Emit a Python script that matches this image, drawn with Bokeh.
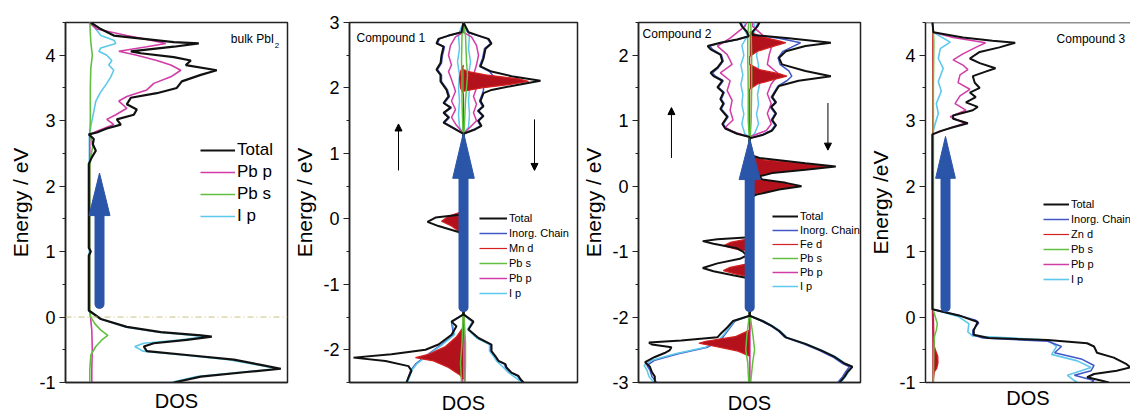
from bokeh.plotting import figure
from bokeh.layouts import row
from bokeh.models import (Range1d, Span, Label, Legend, LegendItem, Arrow, NormalHead,
                          FixedTicker, SingleIntervalTicker, PrintfTickFormatter)
from bokeh.embed import file_html
from bokeh.resources import INLINE

FONT = "Liberation Sans"
C_TOT = "#111111"
C_CHN = "#4257c6"
C_RED_FILL = "#b3121c"
C_RED = "#d42020"
C_PBS = "#62c040"
C_PBP = "#d23ca6"
C_IP = "#5cc8ec"
C_ARROW = "#2a55a8"

# ---------------- Panel 1 : bulk PbI2 (energy in eV, DOS arb. units) ----------------
p1_tot_E = [4.50, 4.40, 4.30, 4.25, 4.20, 4.18, 4.13, 4.06, 4.03, 3.97, 3.92, 3.85, 3.77, 3.70, 3.60,
            3.50, 3.42, 3.35, 3.25, 3.17, 3.09, 3.02, 2.94, 2.88, 2.82, 2.79, 2.72, 2.64, 2.54, 2.44,
            2.34, 1.06, 1.00, 0.94, 0.10, -0.03, -0.15, -0.23, -0.28, -0.30, -0.35, -0.40, -0.45, -0.52,
            -0.58, -0.65, -0.73, -0.79, -0.84, -0.91, -1.00]
p1_tot_D = [0.2, 1.2, 2.5, 5.5, 8.5, 11.0, 8.5, 4.2, 5.2, 8.5, 10.2, 9.7, 12.8, 11.2, 9.3,
            8.8, 6.8, 4.2, 3.8, 4.8, 4.5, 2.8, 3.2, 1.8, 0.8, 0.0, 0.5, 0.4, 0.7, 0.3,
            0.0, 0.0, 0.2, 0.0, 0.0, 1.2, 3.8, 7.2, 11.2, 12.3, 9.8, 6.5, 5.5, 5.8,
            9.8, 14.5, 17.2, 19.2, 15.8, 11.2, 8.5]
p1_pbp_E = [4.50, 4.40, 4.30, 4.23, 4.18, 4.13, 4.06, 4.00, 3.92, 3.85, 3.77, 3.67, 3.57, 3.47,
            3.37, 3.30, 3.19, 3.09, 3.02, 2.94, 2.84, 2.79, 2.30, 0.10, -0.20, -0.50, -0.80, -1.00]
p1_pbp_D = [0.0, 0.8, 3.8, 6.2, 7.7, 5.8, 3.0, 4.8, 6.8, 8.2, 9.2, 8.2, 6.5, 5.8,
            3.8, 3.0, 3.8, 2.7, 1.8, 2.5, 0.8, 0.1, 0.1, 0.1, 0.3, 0.35, 0.3, 0.3]
p1_pbs_E = [4.50, 4.20, 4.00, 3.80, 3.50, 3.00, 2.80, 2.62, 2.45, 2.30, 1.00, 0.10, 0.00, -0.10,
            -0.20, -0.28, -0.35, -0.45, -0.58, -0.80, -1.00]
p1_pbs_D = [0.1, 0.2, 0.35, 0.2, 0.15, 0.15, 0.1, 0.4, 0.2, 0.1, 0.1, 0.1, 0.2, 0.6,
            1.2, 1.9, 1.3, 0.7, 0.2, 0.1, 0.1]
p1_ip_E = [4.50, 4.30, 4.23, 4.18, 4.11, 4.06, 4.00, 3.92, 3.85, 3.77, 3.67, 3.57, 3.44, 3.30,
           3.14, 2.99, 2.79, 2.30, 0.10, -0.03, -0.15, -0.23, -0.28, -0.30, -0.35, -0.40, -0.45,
           -0.52, -0.58, -0.65, -0.73, -0.79, -0.84, -0.91, -1.00]
p1_ip_D = [0.2, 1.2, 2.5, 2.7, 1.2, 1.0, 1.8, 2.3, 2.0, 2.5, 2.2, 1.8, 1.2, 0.7,
           0.5, 0.3, 0.05, 0.05, 0.05, 1.2, 3.6, 7.0, 10.5, 11.5, 9.0, 5.5, 4.6,
           5.4, 9.4, 14.0, 16.8, 18.8, 15.4, 10.8, 8.2]
p1_legend = ["Total", "Pb p", "Pb s", "I p"]

# ---------------- Panel 2 : Compound 1 (Mn); up = left, dn = right ----------------
p2_tot_up_E = [3.00, 2.85, 2.80, 2.75, 2.68, 2.63, 2.50, 2.38, 2.28, 2.20, 2.10, 1.97, 1.87, 1.77,
               1.70, 1.62, 1.55, 1.47, 1.40, 1.30, 0.08, 0.06, 0.02, -0.045, -0.11, -0.20, -0.26,
               -1.46, -1.57, -1.64, -1.77, -1.92, -2.00, -2.07, -2.12, -2.17, -2.25, -2.32, -2.42, -2.50]
p2_tot_up_D = [0.0, 0.2, 1.5, 2.5, 2.7, 2.0, 2.2, 2.3, 2.7, 2.3, 2.3, 1.7, 1.5, 2.0,
               1.3, 2.0, 1.5, 2.0, 1.2, 0.0, 0.0, 0.6, 2.8, 3.6, 2.5, 0.5, 0.0,
               0.0, 1.2, 0.7, 1.2, 2.5, 3.8, 7.2, 11.0, 7.8, 5.5, 5.2, 5.5, 5.7]
p2_dn_E = [3.00, 2.85, 2.80, 2.75, 2.68, 2.60, 2.45, 2.33, 2.25, 2.18, 2.11, 2.05, 1.97, 1.92,
           1.80, 1.72, 1.65, 1.57, 1.50, 1.42, 1.37, 1.30, -1.46, -1.57, -1.69, -1.82, -1.92,
           -2.02, -2.10, -2.17, -2.22, -2.27, -2.35, -2.40, -2.45, -2.50]
p2_tot_dn_D = [0.0, 0.5, 1.5, 2.5, 2.8, 2.2, 2.0, 1.7, 2.8, 4.8, 7.7, 5.5, 2.8, 2.0,
               1.7, 2.0, 1.5, 2.0, 1.5, 1.8, 1.2, 0.0, 0.0, 1.0, 0.5, 1.5, 2.8,
               2.8, 3.2, 3.5, 4.2, 4.3, 4.8, 5.5, 5.7, 6.0]
p2_chn_up_E = [3.00, 2.85, 2.80, 2.75, 2.68, 2.63, 2.50, 2.38, 2.28, 2.20, 2.10, 1.97, 1.87, 1.77,
               1.70, 1.62, 1.55, 1.47, 1.40, 1.30, -1.46, -1.57, -1.77, -1.92, -2.03, -2.12, -2.22,
               -2.32, -2.42, -2.50]
p2_chn_up_D = [0.0, 0.2, 1.4, 2.4, 2.6, 1.9, 2.1, 2.2, 2.6, 2.2, 2.2, 1.6, 1.4, 1.9,
               1.2, 1.9, 1.4, 1.9, 1.1, 0.0, 0.0, 1.2, 1.0, 2.2, 3.2, 4.0, 4.8,
               5.3, 5.5, 5.7]
p2_chn_dn_D = [0.0, 0.4, 1.4, 2.4, 2.7, 2.1, 1.9, 1.6, 2.6, 3.0, 2.2, 2.0, 2.0, 1.9,
               1.6, 1.9, 1.4, 1.9, 1.4, 1.7, 1.1, 0.0, 0.0, 0.9, 0.5, 1.4, 2.7,
               2.7, 3.1, 3.4, 4.1, 4.2, 4.7, 5.4, 5.6, 5.9]
p2_ip_up_E = [3.00, 2.90, 2.80, 2.60, 2.40, 2.20, 2.00, 1.80, 1.60, 1.40, 1.30, -1.46, -1.57,
              -1.77, -1.92, -2.03, -2.12, -2.22, -2.32, -2.42, -2.50]
p2_ip_up_D = [0.0, 0.3, 0.5, 0.4, 0.6, 0.4, 0.5, 0.4, 0.5, 0.4, 0.0, 0.0, 1.1,
              0.9, 2.1, 3.1, 3.9, 4.7, 5.2, 5.4, 5.6]
p2_ip_dn_E = [3.00, 2.90, 2.80, 2.60, 2.40, 2.20, 2.00, 1.80, 1.60, 1.40, 1.30, -1.46, -1.57,
              -1.69, -1.82, -1.92, -2.02, -2.10, -2.17, -2.27, -2.35, -2.45, -2.50]
p2_ip_dn_D = [0.0, 0.3, 0.6, 0.5, 0.7, 0.5, 0.6, 0.5, 0.6, 0.5, 0.0, 0.0, 0.9,
              0.4, 1.3, 2.6, 2.6, 3.0, 3.3, 4.0, 4.5, 5.4, 5.8]
p2_pbp_up_E = [3.00, 2.85, 2.78, 2.65, 2.50, 2.35, 2.25, 2.13, 1.95, 1.80, 1.67, 1.55, 1.45, 1.30,
               -1.46, -2.00, -2.50]
p2_pbp_up_D = [0.0, 0.0, 0.8, 1.3, 1.5, 1.2, 1.5, 1.2, 0.8, 1.2, 0.8, 1.2, 0.8, 0.0,
               0.0, 0.1, 0.1]
p2_pbp_dn_E = [3.00, 2.85, 2.78, 2.65, 2.50, 2.35, 2.20, 2.13, 2.00, 1.87, 1.75, 1.62, 1.50, 1.30,
               -1.46, -2.00, -2.50]
p2_pbp_dn_D = [0.0, 0.0, 0.8, 1.3, 1.5, 1.3, 1.0, 0.8, 1.3, 1.0, 1.3, 1.0, 1.3, 0.0,
               0.0, 0.1, 0.1]
p2_pbs_E = [3.00, 2.80, 2.40, 2.20, 1.80, 1.30, -1.46, -1.90, -2.20, -2.50]
p2_pbs_up_D = [0.0, 0.15, 0.2, 0.15, 0.15, 0.05, 0.05, 0.15, 0.3, 0.2]
p2_pbs_dn_D = [0.0, 0.2, 0.3, 0.4, 0.2, 0.05, 0.05, 0.2, 0.2, 0.15]
p2_mnd_up_E = [2.35, 2.25, 2.15, 2.00, 1.90, 0.12, 0.04, -0.035, -0.11, -0.21, -0.26,
               -1.65, -1.80, -1.95, -2.07, -2.12, -2.17, -2.27, -2.38, -2.45]
p2_mnd_up_D = [0.0, 0.3, 0.4, 0.3, 0.0, 0.0, 1.5, 2.2, 1.2, 0.3, 0.0,
               0.0, 0.7, 1.8, 3.5, 4.8, 3.0, 1.5, 0.4, 0.0]
p2_mnd_dn_E = [2.28, 2.25, 2.20, 2.14, 2.10, 2.05, 2.00, 1.95]
p2_mnd_dn_D = [0.0, 0.5, 2.2, 5.5, 6.5, 4.5, 1.8, 0.0]
p2_legend = ["Total", "Inorg. Chain", "Mn d", "Pb s", "Pb p", "I p"]

# ---------------- Panel 3 : Compound 2 (Fe) ----------------
p3_tot_up_E = [2.50, 2.44, 2.36, 2.29, 2.24, 2.19, 2.14, 2.09, 2.01, 1.91, 1.81, 1.73, 1.68, 1.61,
               1.51, 1.43, 1.33, 1.26, 1.18, 1.06, 0.95, 0.88, 0.80, 0.75, -0.78, -0.81, -0.84,
               -0.88, -0.95, -1.00, -1.06, -1.11, -1.18, -1.25, -1.30, -1.36, -1.41, -1.98, -2.06,
               -2.16, -2.26, -2.31, -2.36, -2.39, -2.42, -2.46, -2.51, -2.55, -2.61, -2.69, -2.76,
               -2.84, -2.91, -3.00]
p3_tot_up_D = [1.0, 0.8, 0.3, 0.1, 1.3, 3.0, 4.3, 4.0, 3.0, 2.8, 3.3, 4.0, 3.7, 2.8,
               3.3, 2.7, 3.0, 2.7, 3.0, 2.3, 2.8, 2.5, 1.3, 0.0, 0.0, 3.3, 4.8,
               3.7, 1.3, 0.7, 0.3, 1.0, 3.3, 4.8, 3.7, 1.7, 0.0, 0.0, 1.7,
               2.3, 3.0, 3.3, 7.0, 10.3, 10.0, 8.0, 8.2, 8.7, 9.7, 10.7, 10.2,
               10.0, 9.7, 9.7]
p3_tot_dn_E = [2.50, 2.44, 2.36, 2.31, 2.26, 2.19, 2.14, 2.06, 1.96, 1.86, 1.76, 1.68, 1.61, 1.53,
               1.46, 1.36, 1.28, 1.21, 1.11, 1.01, 0.93, 0.85, 0.78, 0.73, 0.48, 0.43, 0.35,
               0.30, 0.25, 0.20, 0.15, 0.10, 0.05, 0.00, -0.05, -0.13, -0.18, -1.98, -2.06,
               -2.14, -2.21, -2.31, -2.41, -2.51, -2.61, -2.71, -2.76, -2.84, -2.91, -3.00]
p3_tot_dn_D = [1.0, 0.8, 0.3, 0.3, 4.0, 8.3, 5.7, 3.7, 3.0, 3.3, 5.7, 8.3, 5.0, 3.0,
               2.7, 2.3, 2.7, 2.2, 2.7, 2.3, 2.7, 2.3, 1.3, 0.0, 0.0, 1.0, 5.7,
               8.8, 5.7, 2.3, 1.0, 1.3, 3.7, 5.3, 3.0, 0.7, 0.0, 0.0, 1.3,
               2.3, 3.0, 3.7, 5.7, 7.3, 8.7, 9.7, 10.5, 10.0, 9.7, 9.2]
p3_chn_up_E = [2.50, 2.44, 2.36, 2.29, 2.24, 2.19, 2.14, 2.09, 2.01, 1.91, 1.81, 1.73, 1.68, 1.61,
               1.51, 1.43, 1.33, 1.26, 1.18, 1.06, 0.95, 0.88, 0.80, 0.75, -1.98, -2.06, -2.16,
               -2.26, -2.36, -2.46, -2.56, -2.66, -2.74, -2.81, -2.91, -3.00]
p3_chn_up_D = [0.9, 0.7, 0.3, 0.1, 1.2, 2.9, 4.1, 3.8, 2.9, 2.7, 3.2, 3.8, 3.5, 2.7,
               3.2, 2.6, 2.9, 2.6, 2.9, 2.2, 2.7, 2.4, 1.2, 0.0, 0.0, 1.5, 2.0,
               2.5, 3.0, 4.3, 7.3, 9.7, 10.5, 10.2, 10.0, 9.5]
p3_chn_dn_E = [2.50, 2.44, 2.36, 2.31, 2.26, 2.19, 2.14, 2.06, 1.96, 1.86, 1.76, 1.68, 1.61, 1.53,
               1.46, 1.36, 1.28, 1.21, 1.11, 1.01, 0.93, 0.85, 0.78, 0.73, -1.98, -2.06, -2.14,
               -2.21, -2.31, -2.41, -2.51, -2.61, -2.71, -2.76, -2.84, -2.91, -3.00]
p3_chn_dn_D = [0.9, 0.7, 0.3, 0.3, 3.0, 5.2, 4.5, 3.4, 2.9, 3.1, 4.0, 4.3, 3.8, 2.9,
               2.6, 2.2, 2.6, 2.1, 2.6, 2.2, 2.6, 2.2, 1.2, 0.0, 0.0, 1.2, 2.2,
               2.9, 3.6, 5.5, 7.1, 8.5, 9.5, 10.2, 9.8, 9.5, 9.0]
p3_ip_up_E = [2.50, 2.40, 2.30, 2.15, 2.00, 1.85, 1.70, 1.55, 1.40, 1.25, 1.10, 0.95, 0.80, 0.75,
              -1.98, -2.06, -2.16, -2.26, -2.36, -2.46, -2.56, -2.66, -2.74, -2.81, -2.91, -3.00]
p3_ip_up_D = [0.4, 0.6, 0.2, 0.8, 0.6, 0.9, 0.7, 0.9, 0.7, 0.8, 0.6, 0.8, 0.5, 0.0,
              0.0, 1.6, 2.1, 2.6, 3.2, 4.5, 7.6, 10.0, 10.8, 10.5, 10.3, 9.8]
p3_ip_dn_E = [2.50, 2.40, 2.30, 2.15, 2.00, 1.85, 1.70, 1.55, 1.40, 1.25, 1.10, 0.95, 0.80, 0.75,
              -1.98, -2.06, -2.14, -2.21, -2.31, -2.41, -2.51, -2.61, -2.71, -2.76, -2.84, -2.91, -3.00]
p3_ip_dn_D = [0.4, 0.6, 0.3, 0.9, 0.7, 0.9, 0.8, 1.0, 0.8, 0.9, 0.7, 0.9, 0.5, 0.0,
              0.0, 1.4, 2.4, 3.1, 3.8, 5.8, 7.4, 8.8, 9.8, 10.5, 10.1, 9.8, 9.3]
p3_pbp_up_E = [2.50, 2.44, 2.26, 2.14, 2.01, 1.86, 1.73, 1.61, 1.46, 1.31, 1.16, 1.01, 0.90, 0.83,
               0.75, -1.98, -3.00]
p3_pbp_up_D = [0.3, 0.5, 2.0, 3.3, 2.3, 1.8, 3.0, 2.0, 2.3, 1.8, 2.0, 1.7, 2.5, 1.7,
               0.0, 0.0, 0.0]
p3_pbp_dn_E = [2.50, 2.44, 2.31, 2.16, 2.01, 1.86, 1.71, 1.56, 1.41, 1.26, 1.11, 0.95, 0.85, 0.75,
               -1.98, -3.00]
p3_pbp_dn_D = [0.3, 0.3, 1.3, 2.3, 2.0, 1.8, 3.0, 2.2, 1.8, 2.2, 1.8, 2.2, 1.7, 0.0,
               0.0, 0.0]
p3_pbs_E = [2.50, 2.30, 2.00, 1.50, 1.00, 0.75, -1.98, -2.30, -2.50, -2.70, -3.00]
p3_pbs_up_D = [0.1, 0.2, 0.2, 0.15, 0.15, 0.05, 0.05, 0.3, 0.4, 0.2, 0.1]
p3_pbs_dn_D = [0.1, 0.15, 0.2, 0.2, 0.15, 0.05, 0.05, 0.35, 0.5, 0.3, 0.1]
p3_fed_up_E = [-0.80, -0.86, -0.91, -0.96, -1.00, -1.18, -1.24, -1.29, -1.34, -1.39,
               -2.20, -2.30, -2.37, -2.40, -2.45, -2.52, -2.60]
p3_fed_up_D = [0.0, 2.0, 2.7, 1.5, 0.0, 0.0, 2.0, 2.7, 1.5, 0.0,
               0.0, 1.5, 4.5, 5.2, 3.5, 1.2, 0.0]
p3_fed_dn_E = [2.36, 2.29, 2.22, 2.19, 2.14, 2.06, 1.98, 1.86, 1.78, 1.71, 1.68, 1.63, 1.56, 1.48,
               0.46, 0.40, 0.35, 0.30, 0.25, 0.20, 0.15, 0.10, 0.05, 0.00, -0.05, -0.13, -0.17]
p3_fed_dn_D = [0.0, 1.0, 3.0, 3.7, 2.5, 0.8, 0.0, 0.0, 1.0, 3.2, 3.8, 2.5, 0.8, 0.0,
               0.0, 1.5, 5.2, 8.3, 5.2, 2.0, 0.8, 1.1, 3.4, 5.0, 2.7, 0.5, 0.0]
p3_legend = ["Total", "Inorg. Chain", "Fe d", "Pb s", "Pb p", "I p"]

# ---------------- Panel 4 : Compound 3 (Zn) ----------------
p4_tot_E = [4.50, 4.35, 4.27, 4.22, 4.19, 4.12, 4.05, 3.95, 3.88, 3.80, 3.75, 3.68, 3.58, 3.50,
            3.43, 3.36, 3.28, 3.21, 3.16, 3.08, 3.03, 2.96, 2.90, 2.84, 2.79, 0.12, 0.025, -0.05,
            -0.075, -0.20, -0.27, -0.32, -0.35, -0.40, -0.45, -0.545, -0.62, -0.72, -0.77, -0.82,
            -0.87, -0.92, -0.97, -1.00]
p4_tot_D = [0.0, 0.1, 3.1, 6.1, 8.4, 6.8, 4.8, 3.8, 4.8, 6.4, 5.4, 4.1, 4.3, 4.8,
            3.8, 4.4, 3.4, 4.6, 4.1, 2.1, 2.1, 3.6, 2.1, 0.8, 0.0, 0.0, 2.7, 4.1,
            4.6, 4.2, 4.2, 5.7, 11.7, 15.7, 16.4, 16.7, 18.4, 19.7, 20.1, 18.7,
            16.4, 15.7, 17.1, 17.9]
p4_chn_E = [0.12, 0.025, -0.05, -0.09, -0.20, -0.27, -0.32, -0.37, -0.45, -0.545, -0.64, -0.74,
            -0.82, -0.89, -0.97, -1.00]
p4_chn_D = [0.0, 2.7, 4.4, 4.7, 4.1, 4.1, 5.1, 11.7, 13.1, 12.4, 15.1, 16.4, 16.1, 14.4, 16.4, 16.1]
p4_ip_E = [4.50, 4.35, 4.20, 4.10, 3.95, 3.80, 3.60, 3.45, 3.26, 3.11, 2.96, 2.80, 0.12, 0.01,
           -0.10, -0.225, -0.29, -0.35, -0.45, -0.57, -0.67, -0.77, -0.89, -0.97, -1.00]
p4_ip_D = [0.0, 0.1, 1.8, 0.8, 0.6, 1.1, 0.6, 0.9, 0.4, 0.6, 0.3, 0.0, 0.0, 2.6,
           3.7, 3.6, 4.1, 11.7, 12.6, 12.1, 14.7, 16.1, 13.7, 14.4, 14.7]
p4_pbp_E = [4.50, 4.35, 4.27, 4.19, 4.12, 4.02, 3.93, 3.85, 3.78, 3.70, 3.58, 3.48, 3.38, 3.26,
            3.16, 3.06, 2.96, 2.89, 2.81, 2.79, 0.11, -0.50, -1.00]
p4_pbp_D = [0.0, 0.1, 2.1, 5.4, 4.4, 3.1, 2.1, 3.1, 3.6, 2.8, 2.6, 3.8, 2.8, 2.3,
            3.4, 1.8, 3.3, 1.8, 0.4, 0.0, 0.0, 0.1, 0.1]
p4_pbs_E = [4.50, 4.20, 3.50, 2.80, 0.10, 0.00, -0.10, -0.20, -0.30, -0.50, -1.00]
p4_pbs_D = [0.05, 0.15, 0.1, 0.1, 0.1, 0.3, 0.5, 0.4, 0.2, 0.15, 0.1]
p4_znd_E = [4.50, 3.00, 1.00, 0.10, -0.30, -0.45, -0.52, -0.60, -0.70, -0.78, -0.84, -0.95, -1.00]
p4_znd_D = [0.05, 0.05, 0.05, 0.1, 0.15, 0.2, 0.35, 0.55, 0.57, 0.45, 0.2, 0.1, 0.1]
p4_legend = ["Total", "Inorg. Chain", "Zn d", "Pb s", "Pb p", "I p"]


# ---------------- helpers ----------------
def make_fig(xr, yr, width, mb_left, mb_right, mb_top, mb_bottom, ylabel, outline=True, dos_standoff=7):
    p = figure(width=width, height=416, x_range=Range1d(*xr), y_range=Range1d(*yr),
               output_backend="svg", toolbar_location=None,
               min_border_left=mb_left, min_border_right=mb_right,
               min_border_top=mb_top, min_border_bottom=mb_bottom)
    p.grid.visible = False
    p.background_fill_color = "white"
    p.border_fill_color = "white"
    if outline:
        p.outline_line_color = "#222222"
        p.outline_line_width = 1.5
        p.outline_line_alpha = 1
    else:
        p.outline_line_color = None
    ya = p.yaxis[0]
    ya.ticker = SingleIntervalTicker(interval=1, num_minor_ticks=2)
    ya.formatter = PrintfTickFormatter(format="%d")
    ya.axis_label = ylabel
    ya.axis_label_text_font = FONT
    ya.axis_label_text_font_size = "21px"
    ya.axis_label_text_font_style = "normal"
    ya.axis_label_text_color = "black"
    ya.axis_label_standoff = 4
    ya.major_label_text_font = FONT
    ya.major_label_text_font_size = "18px"
    ya.major_label_text_color = "black"
    ya.major_label_standoff = 4
    ya.major_tick_out = 6
    ya.major_tick_in = 0
    ya.minor_tick_out = 3
    ya.minor_tick_in = 0
    ya.axis_line_width = 1.5
    ya.axis_line_color = "#222222"
    ya.major_tick_line_color = "#222222"
    ya.minor_tick_line_color = "#222222"
    xa = p.xaxis[0]
    xa.ticker = FixedTicker(ticks=[])
    xa.axis_label = "DOS"
    xa.axis_label_text_font = FONT
    xa.axis_label_text_font_size = "20px"
    xa.axis_label_text_font_style = "normal"
    xa.axis_label_text_color = "black"
    xa.axis_label_standoff = dos_standoff
    xa.major_label_text_font_size = "0px"
    xa.major_tick_out = 0
    xa.major_tick_in = 0
    xa.minor_tick_out = 0
    xa.minor_tick_in = 0
    xa.major_label_standoff = 0
    xa.major_tick_line_color = None
    xa.minor_tick_line_color = None
    xa.axis_line_width = 1.5
    xa.axis_line_color = "#222222"
    return p


def sgn(D, up):
    return [-d for d in D] if up else list(D)


def spin_line(p, E, D, color, width, up=False):
    return p.line(x=sgn(D, up), y=E, line_color=color, line_width=width)


def spin_fill(p, E, D, up=False):
    xs = sgn(D, up)
    p.harea(x1=[0.0] * len(E), x2=xs, y=E, fill_color=C_RED_FILL, fill_alpha=1.0)
    return p.line(x=xs, y=E, line_color=C_RED, line_width=1.2)


def big_arrow(p, x, e0, tip, head_len, half_w):
    base = tip - head_len
    p.segment(x0=[x], y0=[e0], x1=[x], y1=[base + 0.05], line_color=C_ARROW,
              line_width=10, line_cap="round")
    p.patch(x=[x - half_w, x + half_w, x], y=[base, base, tip], fill_color=C_ARROW,
            line_color=C_ARROW, line_width=1)


def thin_arrow(p, x, e0, e1):
    p.add_layout(Arrow(end=NormalHead(size=7, fill_color="black", line_color="black"),
                       x_start=x, y_start=e0, x_end=x, y_end=e1,
                       line_color="black", line_width=1))


def add_legend(p, labels, renderers, loc, font_size, glyph_w, row_h, spacing):
    items = [LegendItem(label=l, renderers=[r]) for l, r in zip(labels, renderers)]
    leg = Legend(items=items, location=loc, orientation="vertical",
                 label_text_font=FONT, label_text_font_size=font_size,
                 label_text_color="black",
                 glyph_width=glyph_w, glyph_height=row_h, label_height=row_h,
                 spacing=spacing, padding=0, margin=0, label_standoff=2,
                 border_line_color=None, background_fill_alpha=0)
    p.add_layout(leg)


def text(p, x, y, t, size="12px"):
    p.add_layout(Label(x=x, y=y, text=t, text_font=FONT, text_font_size=size,
                       text_baseline="middle", text_align="left", text_color="black"))


# ---------------- Panel 1 ----------------
f1 = make_fig((-2.33, 19.87), (-1.0, 4.5), 289, 65, 2, 22, 32, "Energy / eV", dos_standoff=7)
f1.add_layout(Span(location=0, dimension="width", line_color="#c9c27c", line_width=1,
                   line_dash="6 3 1 3"))
r_ip = f1.line(x=p1_ip_D, y=p1_ip_E, line_color=C_IP, line_width=1.6)
r_pbp = f1.line(x=p1_pbp_D, y=p1_pbp_E, line_color=C_PBP, line_width=1.6)
r_pbs = f1.line(x=p1_pbs_D, y=p1_pbs_E, line_color=C_PBS, line_width=1.6)
r_tot = f1.line(x=p1_tot_D, y=p1_tot_E, line_color=C_TOT, line_width=2.2)
big_arrow(f1, 1.07, 0.20, 2.20, 0.65, 1.05)
add_legend(f1, p1_legend, [r_tot, r_pbp, r_pbs, r_ip], (135, 156), "17px", 35, 20, 2)
text(f1, 14.2, 4.25, "bulk PbI")
text(f1, 18.6, 4.15, "2", "8px")

# ---------------- Panel 2 ----------------
f2 = make_fig((-11.4, 11.4), (-2.5, 3.0), 290, 60, 2, 17, 34, "Energy / eV", dos_standoff=9)
spin_line(f2, p2_chn_up_E, p2_chn_up_D, C_CHN, 1.5, up=True)
r2_chn = spin_line(f2, p2_dn_E, p2_chn_dn_D, C_CHN, 1.5)
spin_line(f2, p2_ip_up_E, p2_ip_up_D, C_IP, 1.5, up=True)
r2_ip = spin_line(f2, p2_ip_dn_E, p2_ip_dn_D, C_IP, 1.5)
spin_line(f2, p2_pbp_up_E, p2_pbp_up_D, C_PBP, 1.5, up=True)
r2_pbp = spin_line(f2, p2_pbp_dn_E, p2_pbp_dn_D, C_PBP, 1.5)
r2_red = spin_fill(f2, p2_mnd_up_E, p2_mnd_up_D, up=True)
spin_fill(f2, p2_mnd_dn_E, p2_mnd_dn_D)
spin_line(f2, p2_pbs_E, p2_pbs_up_D, C_PBS, 1.5, up=True)
r2_pbs = spin_line(f2, p2_pbs_E, p2_pbs_dn_D, C_PBS, 1.5)
spin_line(f2, p2_tot_up_E, p2_tot_up_D, C_TOT, 2.0, up=True)
r2_tot = spin_line(f2, p2_dn_E, p2_tot_dn_D, C_TOT, 2.0)
big_arrow(f2, 0.0, -1.35, 1.32, 0.70, 1.08)
thin_arrow(f2, -6.5, 0.74, 1.45)
thin_arrow(f2, 7.1, 1.52, 0.74)
add_legend(f2, p2_legend, [r2_tot, r2_chn, r2_red, r2_pbs, r2_pbp, r2_ip], (130, 82),
           "11px", 28, 14, 1)
text(f2, -10.7, 2.76, "Compound 1")

# ---------------- Panel 3 ----------------
f3 = make_fig((-11.37, 11.33), (-3.0, 2.5), 287, 54, 6, 17, 34, "Energy / eV", dos_standoff=9)
spin_line(f3, p3_chn_up_E, p3_chn_up_D, C_CHN, 1.5, up=True)
r3_chn = spin_line(f3, p3_chn_dn_E, p3_chn_dn_D, C_CHN, 1.5)
spin_line(f3, p3_ip_up_E, p3_ip_up_D, C_IP, 1.5, up=True)
r3_ip = spin_line(f3, p3_ip_dn_E, p3_ip_dn_D, C_IP, 1.5)
spin_line(f3, p3_pbp_up_E, p3_pbp_up_D, C_PBP, 1.5, up=True)
r3_pbp = spin_line(f3, p3_pbp_dn_E, p3_pbp_dn_D, C_PBP, 1.5)
r3_red = spin_fill(f3, p3_fed_up_E, p3_fed_up_D, up=True)
spin_fill(f3, p3_fed_dn_E, p3_fed_dn_D)
spin_line(f3, p3_pbs_E, p3_pbs_up_D, C_PBS, 1.5, up=True)
r3_pbs = spin_line(f3, p3_pbs_E, p3_pbs_dn_D, C_PBS, 1.5)
spin_line(f3, p3_tot_up_E, p3_tot_up_D, C_TOT, 2.0, up=True)
r3_tot = spin_line(f3, p3_tot_dn_E, p3_tot_dn_D, C_TOT, 2.0)
big_arrow(f3, 0.0, -1.85, 0.73, 0.63, 1.08)
thin_arrow(f3, -8.0, 0.43, 1.20)
thin_arrow(f3, 8.0, 1.27, 0.55)
add_legend(f3, p3_legend, [r3_tot, r3_chn, r3_red, r3_pbs, r3_pbp, r3_ip], (134, 89),
           "11px", 26, 14, 0)
text(f3, -10.95, 2.33, "Compound 2")

# ---------------- Panel 4 ----------------
f4 = make_fig((-0.7, 20.1), (-1.0, 4.5), 264, 56, 0, 16, 29, "Energy /eV", outline=False,
              dos_standoff=4)
f4.add_layout(Span(location=4.5, dimension="width", line_color="#222222", line_width=1.5))
r4_ip = f4.line(x=p4_ip_D, y=p4_ip_E, line_color=C_IP, line_width=1.6)
r4_chn = f4.line(x=p4_chn_D, y=p4_chn_E, line_color=C_CHN, line_width=1.5)
r4_pbp = f4.line(x=p4_pbp_D, y=p4_pbp_E, line_color=C_PBP, line_width=1.5)
r4_red = spin_fill(f4, p4_znd_E, p4_znd_D)
r4_pbs = f4.line(x=p4_pbs_D, y=p4_pbs_E, line_color=C_PBS, line_width=1.5)
r4_tot = f4.line(x=p4_tot_D, y=p4_tot_E, line_color=C_TOT, line_width=2.0)
big_arrow(f4, 1.33, 0.15, 2.76, 0.64, 1.0)
add_legend(f4, p4_legend, [r4_tot, r4_chn, r4_red, r4_pbs, r4_pbp, r4_ip], (118, 96),
           "11px", 26, 14, 1)
text(f4, 12.6, 4.25, "Compound 3")

layout = row(f1, f2, f3, f4)
open("out.html", "w").write(file_html(layout, INLINE))
